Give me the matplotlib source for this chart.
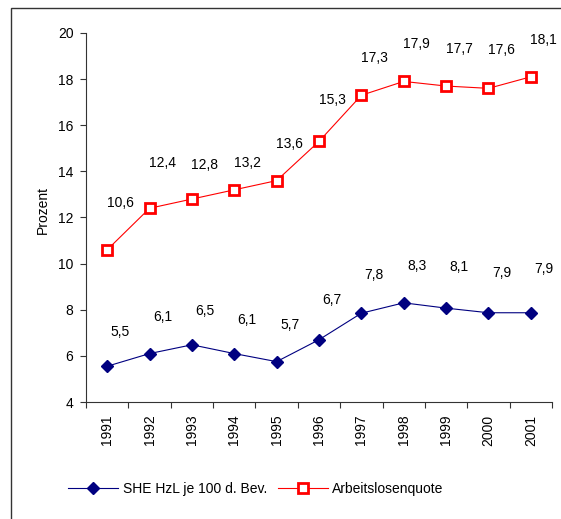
import matplotlib
matplotlib.use('Agg')
import matplotlib.pyplot as plt
from matplotlib.patches import Rectangle

plt.rcParams['font.family'] = ['Liberation Sans', 'DejaVu Sans']
plt.rcParams['font.size'] = 10

# Data
years = ['1991', '1992', '1993', '1994', '1995', '1996', '1997', '1998', '1999', '2000', '2001']
she_hzl = [5.55, 6.1, 6.48, 6.1, 5.75, 6.7, 7.85, 8.3, 8.07, 7.87, 7.87]
she_labels = ['5,5', '6,1', '6,5', '6,1', '5,7', '6,7', '7,8', '8,3', '8,1', '7,9', '7,9']
alq = [10.6, 12.4, 12.8, 13.2, 13.6, 15.3, 17.3, 17.9, 17.7, 17.6, 18.1]
alq_labels = ['10,6', '12,4', '12,8', '13,2', '13,6', '15,3', '17,3', '17,9', '17,7', '17,6', '18,1']

# label offsets in pixels (dx, dy), as the labels were dragged in the original
she_dy = [34, 37, 34, 34, 37, 40, 38, 37, 41, 40, 44]
alq_dy = [47, 45, 34, 27, 37, 41, 37, 37, 37, 38, 37]
dx = 13

W, H = 561, 519
fig = plt.figure(figsize=(W / 100, H / 100), dpi=100)
ax = fig.add_axes([86 / W, (H - 402) / H, (552 - 86) / W, (402 - 33) / H])

x = list(range(len(years)))
ax.plot(x, she_hzl, color='#000080', lw=0.8, marker='D', markersize=6.5,
        markerfacecolor='#000080', markeredgecolor='#000080',
        label='SHE HzL je 100 d. Bev.')
ax.plot(x, alq, color='#FF0000', lw=0.8, marker='s', markersize=7.5,
        markerfacecolor='white', markeredgecolor='#FF0000', markeredgewidth=2,
        label='Arbeitslosenquote')

px = 72 / 100  # pixel -> points
for xi, v, t, d in zip(x, she_hzl, she_labels, she_dy):
    ax.annotate(t, (xi, v), xytext=(dx * px, d * px), textcoords='offset points',
                ha='center', va='center', fontsize=10, annotation_clip=False)
for xi, v, t, d in zip(x, alq, alq_labels, alq_dy):
    ax.annotate(t, (xi, v), xytext=(dx * px, d * px), textcoords='offset points',
                ha='center', va='center', fontsize=10, annotation_clip=False)

ax.set_xlim(-0.5, len(years) - 0.5)
ax.set_ylim(4, 20)
ax.set_yticks(range(4, 21, 2))
ax.set_xticks([i - 0.5 for i in range(len(years) + 1)])
ax.set_xticklabels([])
ax.set_xticks(x, minor=True)
ax.set_xticklabels(years, minor=True, rotation=90)
ax.tick_params(axis='x', which='minor', length=0, pad=9)
ax.tick_params(axis='x', which='major', length=4, width=0.8, color='#333333')
ax.tick_params(axis='y', length=4, width=0.8, color='#333333', pad=5)
ax.set_ylabel('Prozent', labelpad=6)
ax.yaxis.label.set_y(0.52)

for s in ['top', 'right']:
    ax.spines[s].set_visible(False)
for s in ['left', 'bottom']:
    ax.spines[s].set_color('#333333')
    ax.spines[s].set_linewidth(0.8)

fig.legend(loc='center', bbox_to_anchor=(256 / W, (H - 489) / H), ncol=2,
           frameon=False, handlelength=3.6, handletextpad=0.3, columnspacing=0.8,
           fontsize=10)

# outer chart frame (cut at right and bottom like the reference)
fig.add_artist(Rectangle((11 / W, -0.1), 1.0, 1.1 - 8 / H, transform=fig.transFigure,
                         fill=False, edgecolor='#333333', lw=1.0))

fig.savefig('out.png', dpi=100)
